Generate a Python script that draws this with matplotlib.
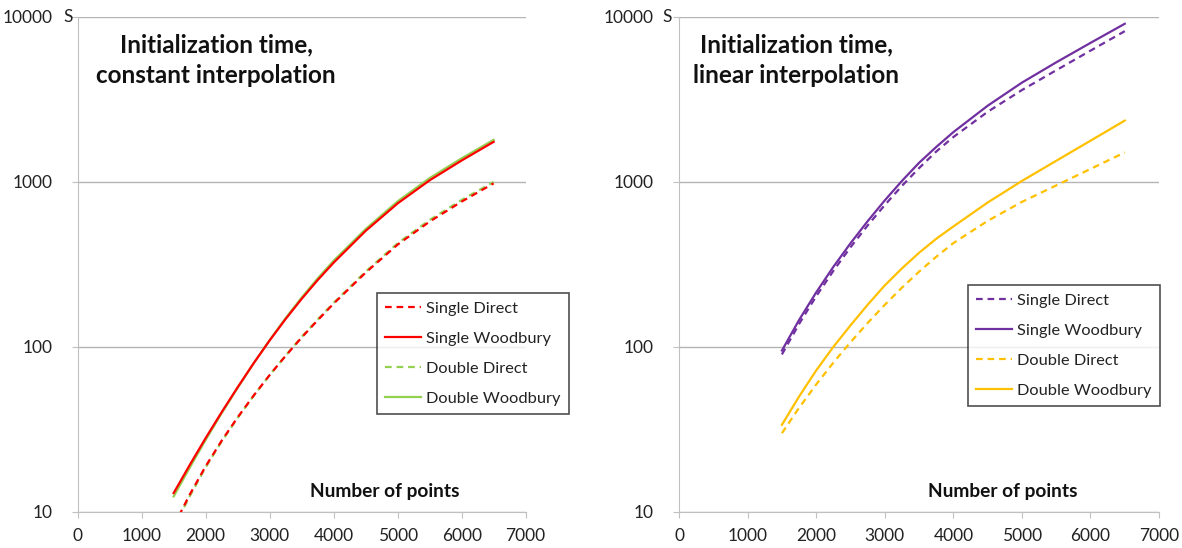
import matplotlib.pyplot as plt

plt.rcParams['font.family'] = ['Lato', 'DejaVu Sans']

# number of points (x axis), shared by all series
n_points = [1500, 1750, 2000, 2250, 2500, 2750, 3000, 3250, 3500, 3750, 4000,
            4500, 5000, 5500, 6000, 6500]

# constant interpolation (seconds)
const_single_direct = [8.2, 12.7, 18.9, 27.0, 37.4, 50.7, 67.5, 88.3, 114, 145, 183,
                       282, 417, 575, 760, 980]
const_single_woodbury = [13.0, 19.2, 28.0, 40.2, 56.9, 79.6, 109.4, 147.6, 195.4, 254, 324,
                         505, 741, 1023, 1349, 1750]
const_double_direct = [8.0, 12.4, 18.6, 26.7, 37.1, 50.5, 67.5, 88.5, 115, 146.5, 185,
                       286, 425, 588, 778, 1000]
const_double_woodbury = [12.4, 18.5, 27.3, 39.6, 56.5, 79.5, 110, 149.5, 199, 260, 333,
                         518, 763, 1055, 1390, 1800]

# linear interpolation (seconds)
lin_single_direct = [90, 137.7, 202.8, 289, 401.8, 544.5, 724.4, 946, 1213, 1528, 1871,
                     2661, 3606, 4753, 6252, 8204]
lin_single_woodbury = [95, 145.5, 214, 305.5, 424.6, 578, 773, 1014, 1306, 1629, 2004,
                       2897, 4000, 5309, 6966, 9099]
lin_double_direct = [30, 42.7, 59.2, 80.2, 106.7, 139.6, 179.9, 228.6, 285.8, 351.6, 425.6,
                     580.8, 756.8, 952.8, 1199, 1510]
lin_double_woodbury = [33.7, 50, 72, 100, 135, 180, 236, 299, 372, 452, 537,
                       750, 1014, 1343, 1778, 2355]

labels = ["Single Direct", "Single Woodbury", "Double Direct", "Double Woodbury"]
titles = ["Initialization time,\nconstant interpolation",
          "Initialization time,\nlinear interpolation"]

DASH = (0, (3, 2.2))
W, H = 1182, 548


def style_axes(ax, s_offset):
    ax.set_yscale('log')
    ax.set_ylim(10, 10000)
    ax.set_xlim(0, 7000)
    ax.set_xticks(range(0, 7001, 1000))
    ax.set_yticks([10, 100, 1000, 10000])
    ax.set_yticklabels(['10', '100', '1000', '10000'])
    ax.minorticks_off()
    ax.grid(axis='y', color='#b4b4b4', linewidth=1)
    ax.set_axisbelow(True)
    for s in ['top', 'right']:
        ax.spines[s].set_visible(False)
    for s in ['left', 'bottom']:
        ax.spines[s].set_color('#c0c0c0')
    ax.tick_params(axis='both', colors='#c0c0c0', labelcolor='#222222',
                   labelsize=12.5, length=4, direction='out')
    ax.tick_params(axis='y', pad=14)
    ax.tick_params(axis='x', pad=8)
    ax.text(s_offset, 1.0, 'S', transform=ax.transAxes, fontsize=12.5,
            color='#222222', ha='center', va='center')


fig = plt.figure(figsize=(W / 100, H / 100), dpi=100)
ax1 = fig.add_axes([0.0657, 0.066, 0.3790, 0.903])
ax2 = fig.add_axes([0.5745, 0.066, 0.4061, 0.903])

panels = [
    (ax1, [const_single_direct, const_single_woodbury, const_double_direct, const_double_woodbury],
     ['#ff0000', '#ff0000', '#92d050', '#92d050'], (377, 293), -0.022),
    (ax2, [lin_single_direct, lin_single_woodbury, lin_double_direct, lin_double_woodbury],
     ['#7030a0', '#7030a0', '#ffc000', '#ffc000'], (968, 285), -0.024),
]

for ax, series, colors, corner, s_off in panels:
    style_axes(ax, s_off)
    handles = [None] * 4
    # double first, so the single series sit on top as in the original
    for k in [2, 3, 0, 1]:
        ls = DASH if k % 2 == 0 else '-'
        line, = ax.plot(n_points, series[k], color=colors[k], linewidth=1.6,
                        linestyle=ls, label=labels[k])
        handles[k] = line
    leg = fig.legend(handles, labels, loc='upper left',
                     bbox_to_anchor=(corner[0] / W, 1 - corner[1] / H),
                     frameon=True, fancybox=False, fontsize=11.8,
                     handlelength=2.2, handletextpad=0.3, labelspacing=0.95,
                     borderpad=0.5, borderaxespad=0)
    leg.get_frame().set_edgecolor('#222222')
    leg.get_frame().set_linewidth(1.2)
    for t in leg.get_texts():
        t.set_color('#222222')

for cx, title in [(216, titles[0]), (796, titles[1])]:
    fig.text(cx / W, 1 - 60 / H, title, fontsize=17.5, fontweight='bold',
             ha='center', va='center', linespacing=1.37, color='#111111')

for cx in [385, 1003]:
    fig.text(cx / W, 1 - 491 / H, 'Number of points', fontsize=13.8,
             fontweight='bold', ha='center', va='center', color='#111111')

fig.savefig('out.png', dpi=100)
